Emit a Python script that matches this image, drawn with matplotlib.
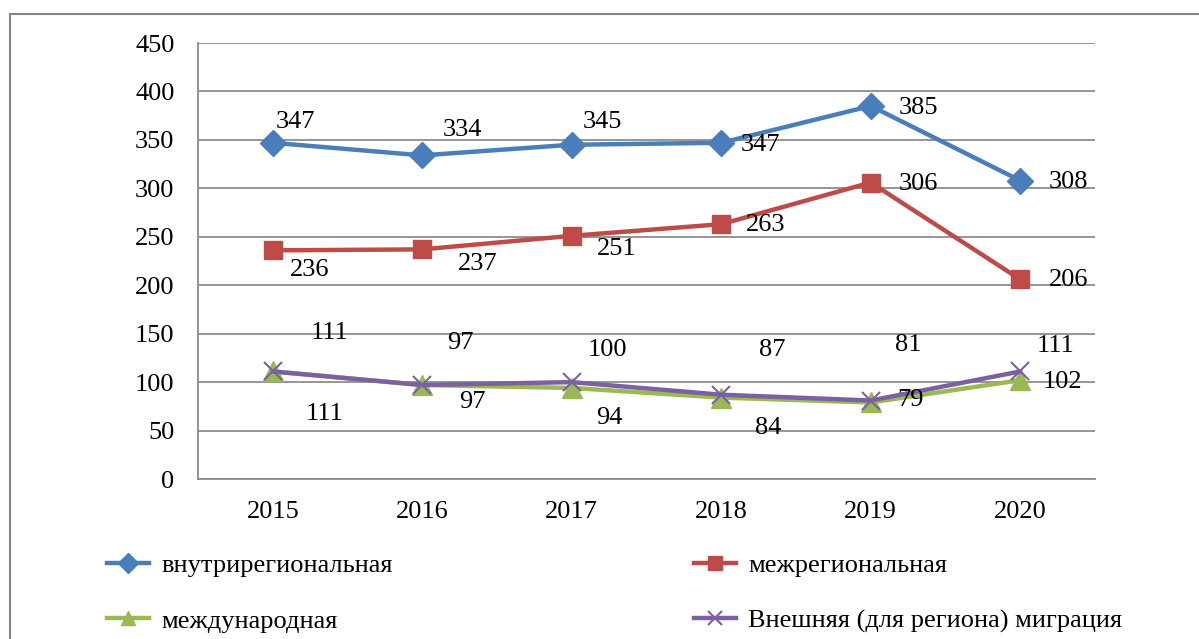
import matplotlib
matplotlib.use("Agg")
import matplotlib.pyplot as plt
from matplotlib.patches import Rectangle

years = ["2015", "2016", "2017", "2018", "2019", "2020"]
intra = [347, 334, 345, 347, 385, 308]
inter = [236, 237, 251, 263, 306, 206]
intl = [111, 97, 94, 84, 79, 102]
external = [111, 97, 100, 87, 81, 111]

names = ["внутрирегиональная", "межрегиональная", "международная",
         "Внешняя (для региона) миграция"]

FS = 19
plt.rcParams['font.family'] = ['Liberation Serif', 'DejaVu Serif']
plt.rcParams['font.size'] = FS

fig = plt.figure(figsize=(11.99, 6.39), dpi=100)
# outer frame of the chart object (cut off at right / bottom)
fig.patches.append(Rectangle((10 / 1199, -0.1), 1.2, 1 - 14 / 639 + 0.1,
                             transform=fig.transFigure, fill=False,
                             edgecolor='#868686', lw=1.5))

ax = fig.add_axes([198 / 1199, 1 - 479 / 639, 897 / 1199, 436 / 639])
x = range(len(years))

series = [
    (intra, '#4A7EBB', 'D', 13, names[0]),
    (inter, '#BE4B48', 's', 13, names[1]),
    (intl, '#98B954', '^', 14, names[2]),
    (external, '#7D60A0', 'x', 13, names[3]),
]
lines = []
for vals, col, mk, ms, name in series:
    kw = dict(color=col, lw=3.2, marker=mk, markersize=ms, label=name)
    if mk == 'x':
        kw['markeredgewidth'] = 1.5
    ln, = ax.plot(x, vals, **kw)
    lines.append(ln)

# data label offsets in pixels (dx, dy with y down as in the picture)
offsets = [
    [(23, -21), (40, -25), (31, -23), (39, 2), (48, 2), (48, 1)],
    [(37, 20), (55, 15), (45, 13), (44, 1), (48, 1), (48, 1)],
    [(52, 43), (50, 17), (38, 30), (47, 30), (40, -2), (42, 2)],
    [(57, -38), (38, -42), (36, -32), (51, -45), (38, -56), (35, -25)],
]
for (vals, *_), offs in zip(series, offsets):
    for i, v in enumerate(vals):
        dx, dy = offs[i]
        ax.annotate(str(v), (i, v), xytext=(dx, -dy), textcoords='offset pixels',
                    ha='center', va='center', fontsize=FS)

ax.set_xlim(-0.5, len(years) - 0.5)
ax.set_ylim(0, 450)
ax.set_yticks(range(0, 451, 50))
ax.set_xticks(list(x))
ax.set_xticklabels(years)
ax.yaxis.grid(True, color='#8C8C8C', lw=1.3)
ax.set_axisbelow(True)
for s in ['top', 'right']:
    ax.spines[s].set_visible(False)
for s in ['left', 'bottom']:
    ax.spines[s].set_color('#8C8C8C')
    ax.spines[s].set_linewidth(1.3)
ax.tick_params(axis='y', length=0, pad=17)
ax.tick_params(axis='x', length=0, pad=16)

leg_kw = dict(loc='upper left', frameon=False, borderpad=0, borderaxespad=0,
              handlelength=1.6, handletextpad=0.45, labelspacing=1.2,
              markerscale=0.75, fontsize=FS)
leg1 = fig.legend(handles=[lines[0], lines[2]], labels=[names[0], names[2]],
                  bbox_to_anchor=(107 / 1199, 1 - 554 / 639), **leg_kw)
leg2 = fig.legend(handles=[lines[1], lines[3]], labels=[names[1], names[3]],
                  bbox_to_anchor=(694 / 1199, 1 - 554 / 639), **leg_kw)

fig.savefig('out.png', dpi=100)
